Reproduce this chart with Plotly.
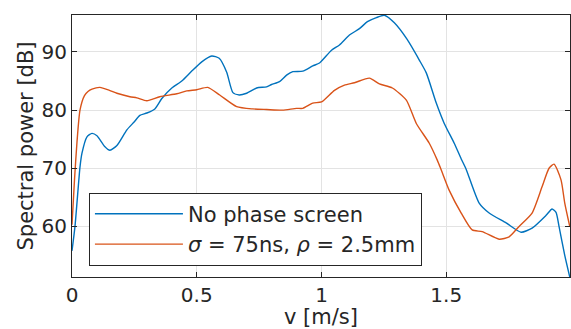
import plotly.graph_objects as go

# --- data ---
v_blue = [0.0, 0.012, 0.032, 0.04, 0.06, 0.08, 0.1, 0.13, 0.152, 0.18, 0.22, 0.25, 0.272, 0.3,
          0.332, 0.36, 0.4, 0.44, 0.48, 0.52, 0.56, 0.59, 0.62, 0.645, 0.67, 0.7, 0.74, 0.78,
          0.8, 0.832, 0.86, 0.885, 0.925, 0.965, 0.992, 1.04, 1.072, 1.112, 1.152, 1.184, 1.22,
          1.252, 1.292, 1.344, 1.392, 1.42, 1.46, 1.492, 1.532, 1.56, 1.58, 1.632, 1.672, 1.74,
          1.8, 1.844, 1.9, 1.924, 1.94, 1.952, 1.975, 1.995]
p_blue = [55.8, 60.0, 70.2, 72.6, 75.4, 76.0, 75.6, 73.8, 73.1, 73.9, 76.6, 78.0, 79.1, 79.5,
          80.2, 82.0, 83.8, 85.0, 86.7, 88.3, 89.3, 88.9, 86.5, 83.0, 82.6, 82.9, 83.8, 84.0,
          84.4, 84.9, 86.0, 86.6, 86.7, 87.6, 88.1, 90.3, 91.2, 92.9, 94.0, 95.2, 95.9,
          96.3, 95.0, 92.1, 88.6, 86.4, 81.2, 77.7, 74.3, 71.6, 69.8, 64.0, 62.3, 60.6,
          59.0, 59.7, 61.9, 63.0, 62.4, 60.0, 55.0, 51.3]

v_orange = [0.0, 0.01, 0.02, 0.032, 0.05, 0.064, 0.08, 0.112, 0.15, 0.18, 0.232, 0.26, 0.3,
            0.352, 0.42, 0.46, 0.5, 0.544, 0.592, 0.66, 0.724, 0.78, 0.844, 0.9, 0.925, 0.965,
            1.0, 1.052, 1.092, 1.132, 1.192, 1.232, 1.284, 1.34, 1.38, 1.432, 1.464, 1.48,
            1.512, 1.56, 1.604, 1.644, 1.712, 1.752, 1.792, 1.844, 1.884, 1.912, 1.932, 1.96,
            1.975, 1.995]
p_orange = [60.3, 68.0, 74.5, 80.0, 82.5, 83.2, 83.6, 83.9, 83.4, 82.9, 82.3, 82.1, 81.6,
            82.3, 82.8, 83.3, 83.5, 83.9, 82.6, 80.6, 80.2, 80.1, 80.0, 80.3, 80.3, 81.2,
            81.4, 83.4, 84.3, 84.7, 85.5, 84.5, 83.8, 81.7, 77.7, 74.3, 71.4, 69.7,
            66.2, 62.3, 59.4, 59.1, 57.8, 58.2, 60.0, 62.3, 66.8, 70.0, 70.7, 68.0,
            64.0, 60.0]

x_ticks = [0, 0.5, 1, 1.5]
x_tick_labels = ["0", "0.5", "1", "1.5"]
y_ticks = [60, 70, 80, 90]
y_tick_labels = ["60", "70", "80", "90"]

name_blue = "No phase screen"
name_orange = "<i>σ</i> = 75ns, <i>ρ</i> = 2.5mm"

FONT = "DejaVu Sans"
AX = "#262626"

fig = go.Figure()
fig.add_trace(go.Scatter(x=v_blue, y=p_blue, mode="lines", name=name_blue,
                         line=dict(color="#0072BD", width=1.4, shape="spline", smoothing=0.6)))
fig.add_trace(go.Scatter(x=v_orange, y=p_orange, mode="lines", name=name_orange,
                         line=dict(color="#D95319", width=1.4, shape="spline", smoothing=0.6)))

axis_common = dict(showline=True, linecolor=AX, linewidth=1, mirror="ticks",
                   ticks="inside", ticklen=5, tickcolor=AX, showgrid=True,
                   gridcolor="#e3e3e3", gridwidth=1, zeroline=False, automargin=False,
                   tickfont=dict(family=FONT, size=20, color=AX))

fig.update_xaxes(range=[0, 1.996], tickvals=x_ticks, ticktext=x_tick_labels,
                 title=dict(text="v [m/s]", font=dict(family=FONT, size=21, color=AX), standoff=1),
                 **axis_common)
fig.update_yaxes(range=[51.3, 96.35], tickvals=y_ticks, ticktext=y_tick_labels,
                 title=dict(text="Spectral power [dB]", font=dict(family=FONT, size=21, color=AX), standoff=2),
                 **axis_common)

fig.update_layout(
    width=571, height=329,
    margin=dict(l=72, r=1, t=15, b=52),
    plot_bgcolor="white", paper_bgcolor="white",
    font=dict(family=FONT, color=AX),
    legend=dict(x=0.034, y=0.322, xanchor="left", yanchor="top",
                bgcolor="white", bordercolor=AX, borderwidth=1,
                font=dict(family=FONT, size=21, color=AX), itemwidth=88),
)

fig.write_html("out.html", config={"displayModeBar": False},
               post_script="document.body.style.margin='0';document.body.style.overflow='hidden';")
